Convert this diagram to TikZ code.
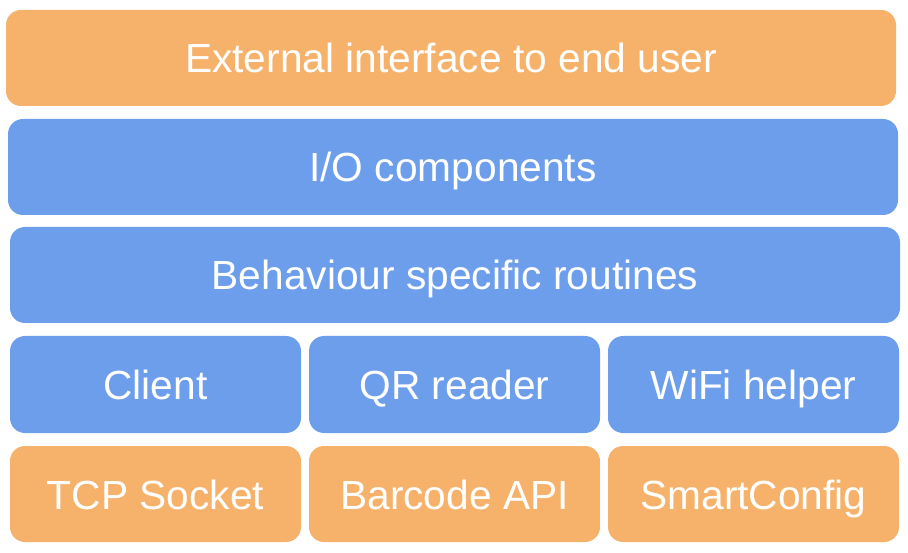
\documentclass[tikz,border=0pt]{standalone}
\usepackage{fontspec}
\setmainfont{Liberation Sans}
\definecolor{boxorange}{HTML}{F6B26B}
\definecolor{boxblue}{HTML}{6D9EEB}
\begin{document}
\begin{tikzpicture}[x=1pt,y=-1pt,
  layer/.style={rounded corners=15pt},
  lbl/.style={text=white,font=\fontsize{40.7}{48}\selectfont,anchor=base,inner sep=0pt}]
\useasboundingbox (0,0) rectangle (908,553);
% rows
\fill[boxorange,layer] (6,10) rectangle (896,106);
\node[lbl] (ext) at (451,73) {External interface to end user};
\fill[boxblue,layer] (8,119) rectangle (898,215);
\node[lbl] (io) at (453,182) {I/O components};
\fill[boxblue,layer] (10,227) rectangle (900,323);
\node[lbl] (beh) at (455,290) {Behaviour specific routines};
% row 4
\fill[boxblue,layer] (10,336) rectangle (301,433);
\node[lbl] (cl) at (155.5,399.5) {Client};
\fill[boxblue,layer] (309,336) rectangle (600,433);
\node[lbl] (qr) at (454.5,399.5) {QR reader};
\fill[boxblue,layer] (608,336) rectangle (899,433);
\node[lbl] (wf) at (753.5,399.5) {WiFi helper};
% row 5
\fill[boxorange,layer] (10,446) rectangle (301,542);
\node[lbl] (tcp) at (155.5,509) {TCP Socket};
\fill[boxorange,layer] (309,446) rectangle (600,542);
\node[lbl] (bar) at (454.5,509) {Barcode API};
\fill[boxorange,layer] (608,446) rectangle (899,542);
\node[lbl] (sc) at (753.5,509) {SmartConfig};
\end{tikzpicture}
\end{document}
